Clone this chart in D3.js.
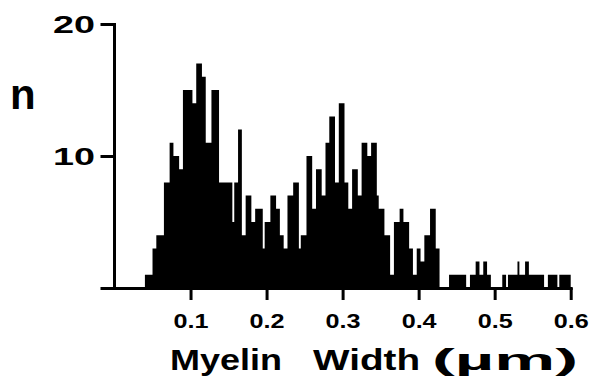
<!DOCTYPE html>
<html>
<head>
<meta charset="utf-8">
<script src="https://cdn.jsdelivr.net/npm/d3@7"></script>
<style>
  html, body { margin: 0; padding: 0; background: #fff; }
  svg { display: block; }
  text { font-family: "Liberation Sans", Arial, Helvetica, sans-serif; font-weight: bold; fill: #000; }
</style>
</head>
<body>
<script>
// Histogram of myelin width: bins start at 0.04 µm, each 0.0025 µm wide
const binStart = 0.04;
const binWidth = 0.0025;
const counts = [
  1, 1, 1, 1, 3, 3, 4, 4, 4, 4,
  8, 8, 8, 11, 11, 10, 10, 10, 9, 9,
  15, 15, 15, 15, 15, 14, 14, 17, 17, 17,
  16, 16, 11, 11, 11, 15, 15, 15, 15, 8,
  8, 8, 8, 8, 8, 8, 5, 8, 8, 12,
  12, 4, 4, 7, 7, 7, 5, 5, 6, 6,
  6, 6, 3, 5, 5, 5, 7, 7, 7, 6,
  6, 4, 4, 3, 3, 7, 7, 7, 8, 8,
  8, 3, 4, 4, 4, 10, 10, 10, 6, 6,
  9, 9, 9, 7, 7, 11, 11, 13, 13, 13,
  8, 8, 14, 14, 14, 8, 8, 6, 6, 9,
  9, 9, 7, 7, 11, 11, 11, 10, 10, 11,
  11, 11, 7, 6, 6, 6, 4, 4, 4, 1,
  1, 5, 5, 5, 6, 6, 5, 5, 5, 3,
  3, 1, 1, 3, 3, 2, 2, 4, 4, 4,
  6, 6, 6, 3, 3, 0, 0, 0, 0, 0,
  1, 1, 1, 1, 1, 1, 1, 1, 1, 0,
  0, 1, 1, 1, 2, 2, 1, 1, 2, 2,
  1, 1, 0, 0, 0, 0, 0, 0, 1, 1,
  0, 1, 1, 1, 1, 1, 2, 1, 1, 1,
  2, 2, 1, 1, 1, 1, 1, 1, 1, 1,
  0, 0, 1, 1, 1, 1, 1, 0, 1, 1,
  1, 1, 1, 1
];

const xTicks = [0.1, 0.2, 0.3, 0.4, 0.5, 0.6];
const yTicks = [0, 10, 20];
const yTickLabels = ["", "10", "20"];
const yLabel = "n";
const xLabelWords = ["Myelin", "Width", "(µm)"];

const W = 594, H = 390;
const svg = d3.select("body").append("svg").attr("width", W).attr("height", H);

const x = d3.scaleLinear().domain([0, 0.6]).range([114.5, 570.7]);
const y = d3.scaleLinear().domain([0, 20]).range([288, 24]);

// bars: one filled step outline over all bins, so neighbouring bars join without seams
const bins = counts.map((n, i) => ({ x0: binStart + i * binWidth, n }));
const last = bins[bins.length - 1];
const outline = bins.concat([{ x0: last.x0 + binWidth, n: last.n }]);
const area = d3.area()
  .x(d => x(d.x0))
  .y0(y(0))
  .y1(d => y(d.n))
  .curve(d3.curveStepAfter);
svg.append("path")
  .datum(outline)
  .attr("d", area)
  .attr("fill", "#000");

// x axis
const gx = svg.append("g")
  .attr("transform", "translate(0,288)")
  .call(d3.axisBottom(x).tickValues(xTicks).tickSize(12).tickSizeOuter(0)
    .tickFormat(d3.format(".1f")));
gx.select(".domain").attr("stroke", "#000").attr("stroke-width", 3).attr("stroke-linecap", "square");
gx.selectAll(".tick line").attr("stroke", "#000").attr("stroke-width", 3);
gx.selectAll(".tick text")
  .attr("y", 40).attr("dy", null)
  .style("font-size", "21px")
  .attr("textLength", 35).attr("lengthAdjust", "spacingAndGlyphs");

// y axis
const gy = svg.append("g")
  .attr("transform", "translate(114,0)")
  .call(d3.axisLeft(y).tickValues(yTicks).tickSize(12).tickSizeOuter(0)
    .tickFormat((d, i) => yTickLabels[i]));
gy.select(".domain").attr("stroke", "#000").attr("stroke-width", 3).attr("stroke-linecap", "square");
gy.selectAll(".tick line").attr("stroke", "#000").attr("stroke-width", 3).attr("stroke-linecap", "square");
gy.selectAll(".tick text")
  .attr("x", -19).attr("dy", "0.36em")
  .style("font-size", "23px")
  .attr("textLength", d => d === 0 ? null : 42).attr("lengthAdjust", "spacingAndGlyphs");

// axis titles
svg.append("text")
  .attr("x", 10).attr("y", 109)
  .style("font-size", "42px")
  .text(yLabel);

const title = svg.append("text").attr("y", 370).style("font-size", "30px");
const wordPos = [[170, 112], [313, 107], [432, 146]];
title.selectAll("tspan")
  .data(xLabelWords)
  .join("tspan")
  .attr("x", (d, i) => wordPos[i][0])
  .attr("textLength", (d, i) => wordPos[i][1])
  .attr("lengthAdjust", "spacingAndGlyphs")
  .text(d => d);
</script>
</body>
</html>
